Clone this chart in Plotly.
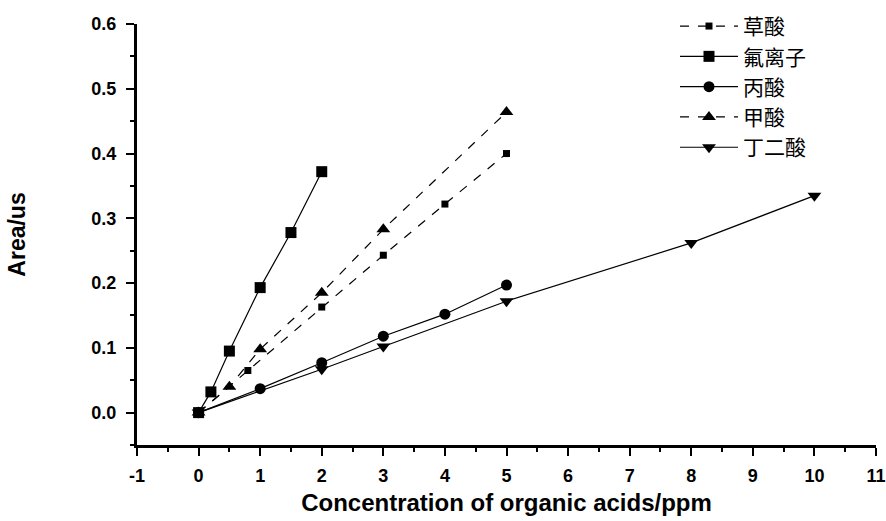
import plotly.graph_objects as go

# Calibration data: peak area (us) vs. concentration (ppm)
names = ["草酸", "氟离子", "丙酸", "甲酸", "丁二酸"]

x_oxalic = [0, 0.8, 2, 3, 4, 5]
y_oxalic = [0, 0.065, 0.163, 0.243, 0.322, 0.400]

x_fluoride = [0, 0.2, 0.5, 1, 1.5, 2]
y_fluoride = [0, 0.032, 0.095, 0.193, 0.278, 0.372]

x_propionic = [0, 1, 2, 3, 4, 5]
y_propionic = [0, 0.037, 0.077, 0.118, 0.152, 0.197]

x_formic = [0, 0.5, 1, 2, 3, 5]
y_formic = [0, 0.040, 0.098, 0.185, 0.283, 0.464]

x_succinic = [0, 2, 3, 5, 8, 10]
y_succinic = [0, 0.067, 0.102, 0.172, 0.262, 0.335]

x_ticks = list(range(-1, 12))
y_ticks = [0.0, 0.1, 0.2, 0.3, 0.4, 0.5, 0.6]

series = [
    (names[0], x_oxalic, y_oxalic, "square", 7, "dash"),
    (names[1], x_fluoride, y_fluoride, "square", 11, "solid"),
    (names[2], x_propionic, y_propionic, "circle", 11, "solid"),
    (names[3], x_formic, y_formic, "triangle-up", 12, "dash"),
    (names[4], x_succinic, y_succinic, "triangle-down", 12, "solid"),
]

fig = go.Figure()
for name, xs, ys, sym, size, dash in series:
    fig.add_trace(go.Scatter(
        x=xs, y=ys, name=name, mode="lines+markers",
        line=dict(color="black", width=1.2, dash=dash),
        marker=dict(symbol=sym, size=size, color="black"),
    ))

sans = "Liberation Sans, Arial, sans-serif"
tick_font = dict(family=sans, size=18, color="black", weight="bold")

fig.update_layout(
    width=886, height=521,
    margin=dict(l=137, r=10, t=24, b=76, autoexpand=False),
    paper_bgcolor="white", plot_bgcolor="white",
    showlegend=True,
    legend=dict(
        x=0.728, y=1.043, xanchor="left", yanchor="top",
        font=dict(family="Noto Sans CJK SC", size=21, color="black"),
        bgcolor="rgba(0,0,0,0)", tracegroupgap=0, itemwidth=58,
    ),
)

fig.update_xaxes(
    range=[-1, 11], tickvals=x_ticks, ticktext=[str(v) for v in x_ticks],
    showline=True, linecolor="black", linewidth=3, mirror=False,
    showgrid=False, zeroline=False, automargin=False,
    ticks="outside", ticklen=8, tickwidth=2, tickcolor="black",
    tickfont=tick_font, ticklabelstandoff=4,
    minor=dict(dtick=0.5, ticks="outside", ticklen=4, tickwidth=2, tickcolor="black", showgrid=False),
    title=dict(text="Concentration of organic acids/ppm",
               font=dict(family=sans, size=24, color="black", weight="bold"), standoff=10),
)

fig.update_yaxes(
    range=[-0.05, 0.6], tickvals=y_ticks, ticktext=[f"{v:.1f}" for v in y_ticks],
    showline=True, linecolor="black", linewidth=3, mirror=False,
    showgrid=False, zeroline=False, automargin=False,
    ticks="outside", ticklen=8, tickwidth=2, tickcolor="black",
    tickfont=tick_font, ticklabelstandoff=6,
    minor=dict(dtick=0.05, ticks="outside", ticklen=4, tickwidth=2, tickcolor="black", showgrid=False),
    title=dict(text="Area/us", font=dict(family=sans, size=23, color="black", weight="bold"), standoff=60),
)

fig.write_html("out.html")
